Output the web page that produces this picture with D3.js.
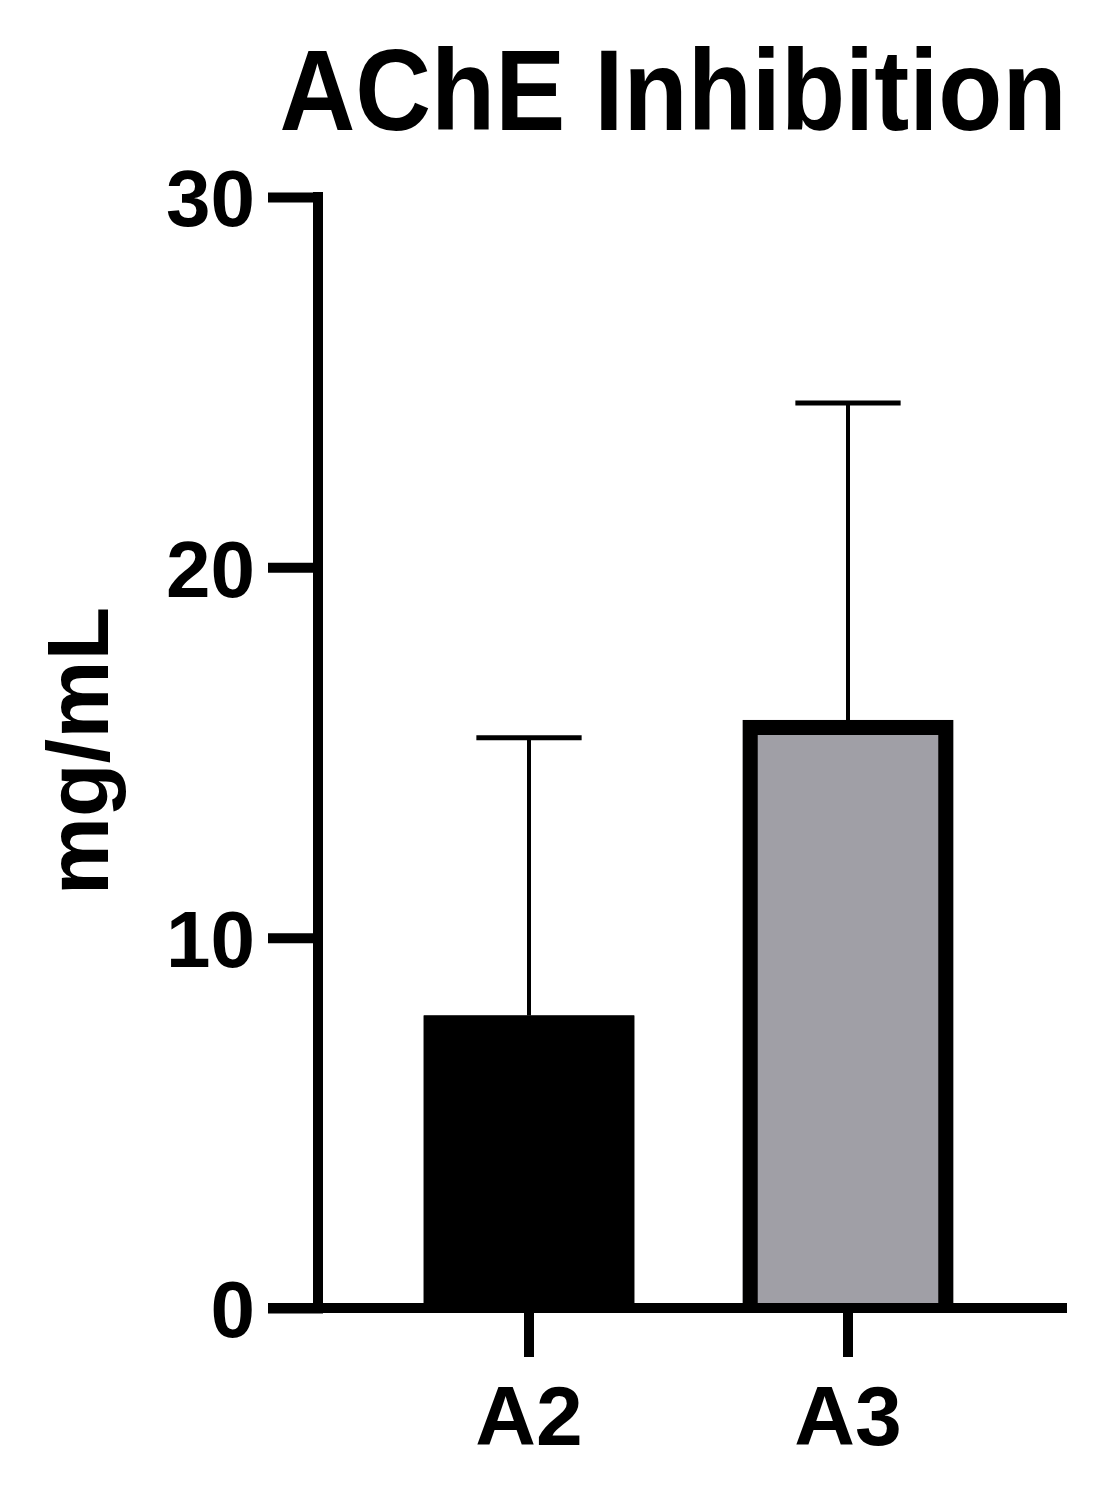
<!DOCTYPE html>
<html>
<head>
<meta charset="utf-8">
<script src="https://cdn.jsdelivr.net/npm/d3@7"></script>
<style>
  body { margin: 0; background: #fff; }
  text { font-family: "Liberation Sans", Arial, sans-serif; font-weight: bold; fill: #000; }
</style>
</head>
<body>
<div id="chart"></div>
<script>
// data
var categories = ["A2", "A3"];
var means = [7.9, 15.88];
var errors = [7.5, 8.56];   // upper error (SD)
var fills = ["#000000", "#a09fa6"];
var yTicks = [0, 10, 20, 30];

var width = 1115, height = 1488;
var axisX = 318, axisY = 1308, axisTop = 197, axisRight = 1067;
var tickLen = 50, lineW = 10, border = 15;

var svg = d3.select("#chart").append("svg")
  .attr("width", width)
  .attr("height", height);

var y = d3.scaleLinear().domain([0, 30]).range([axisY, axisTop]);
var x = d3.scaleBand()
  .domain(categories)
  .range([369.5, 1007.5])
  .paddingInner(0.34)
  .paddingOuter(0.17);

var bw = x.bandwidth();

// bars: fill first, then a 3-sided border (bottom sits on the axis)
var bars = svg.selectAll(".bar")
  .data(categories)
  .enter()
  .append("g")
  .attr("class", "bar");

bars.append("rect")
  .attr("x", function(d) { return x(d); })
  .attr("y", function(d, i) { return y(means[i]); })
  .attr("width", bw)
  .attr("height", function(d, i) { return y(0) - y(means[i]); })
  .attr("fill", function(d, i) { return fills[i]; });

bars.append("path")
  .attr("d", function(d, i) {
    var x0 = x(d) + border / 2, x1 = x(d) + bw - border / 2;
    var top = y(means[i]) + border / 2;
    return "M" + x0 + "," + y(0) + "V" + top + "H" + x1 + "V" + y(0);
  })
  .attr("fill", "none")
  .attr("stroke", "#000")
  .attr("stroke-width", border);

// error bars (upper only)
var eb = svg.selectAll(".err")
  .data(categories)
  .enter()
  .append("g")
  .attr("class", "err");

eb.append("line")
  .attr("x1", function(d) { return x(d) + bw / 2; })
  .attr("x2", function(d) { return x(d) + bw / 2; })
  .attr("y1", function(d, i) { return y(means[i]); })
  .attr("y2", function(d, i) { return y(means[i] + errors[i]); })
  .attr("stroke", "#000")
  .attr("stroke-width", 4);

eb.append("line")
  .attr("x1", function(d) { return x(d) + bw / 4; })
  .attr("x2", function(d) { return x(d) + bw * 3 / 4; })
  .attr("y1", function(d, i) { return y(means[i] + errors[i]); })
  .attr("y2", function(d, i) { return y(means[i] + errors[i]); })
  .attr("stroke", "#000")
  .attr("stroke-width", 5);

// y axis
var yAxis = d3.axisLeft(y)
  .tickValues(yTicks)
  .tickSizeInner(tickLen)
  .tickSizeOuter(0)
  .tickPadding(13);

var gy = svg.append("g")
  .attr("transform", "translate(" + axisX + ",0)")
  .call(yAxis);
gy.select(".domain").attr("stroke-width", lineW).attr("d", "M0," + (y(0) + lineW / 2) + "V" + (y(30) - lineW / 2));
gy.selectAll(".tick line").attr("stroke-width", lineW).attr("x2", -tickLen).attr("x1", lineW / 2);
gy.selectAll(".tick text")
  .attr("font-size", 80)
  .attr("dy", "0.36em");

// x axis
var xAxis = d3.axisBottom(x)
  .tickSizeInner(49)
  .tickSizeOuter(0)
  .tickPadding(28);

var gx = svg.append("g")
  .attr("transform", "translate(0," + axisY + ")")
  .call(xAxis);
gx.select(".domain").attr("stroke-width", lineW).attr("d", "M" + (axisX - tickLen) + ",0H" + axisRight);
gx.selectAll(".tick line").attr("stroke-width", lineW);
gx.selectAll(".tick text").attr("font-size", 84);

svg.selectAll(".domain").attr("stroke", "#000");
svg.selectAll(".tick line").attr("stroke", "#000");
svg.selectAll(".tick text").attr("fill", "#000").style("font-family", "'Liberation Sans', Arial, sans-serif");

// y label
svg.append("text")
  .attr("transform", "translate(108,751) rotate(-90)")
  .attr("text-anchor", "middle")
  .attr("font-size", 88)
  .text("mg/mL");

// title
svg.append("text")
  .attr("transform", "translate(673,130) scale(1,1.09)")
  .attr("text-anchor", "middle")
  .attr("font-size", 105)
  .text("AChE Inhibition");
</script>
</body>
</html>
